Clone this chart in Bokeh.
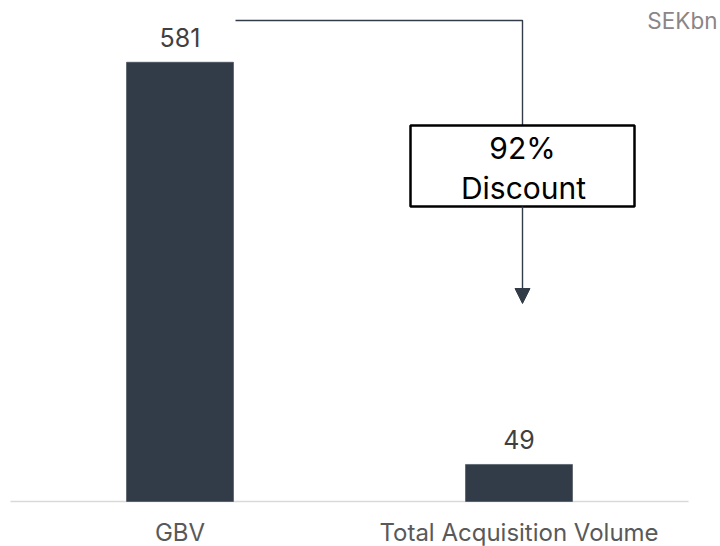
from bokeh.plotting import figure
from bokeh.models import Range1d, ColumnDataSource, Arrow, NormalHead
from bokeh.embed import file_html
from bokeh.resources import INLINE
from bokeh.core.properties import value

# ---- data ----
categories = ["GBV", "Total Acquisition Volume"]
values = [581, 49]
value_labels = ["581", "49"]
unit_label = "SEKbn"
discount_pct = "92%"
discount_word = "Discount"

BAR = "#313c48"
FONT = "Inter"

# ---- layout constants (pixels) ----
W, H = 720, 546
px_x = 339.0                     # pixels per category slot
px_y = (501 - 61.7) / 581.0      # pixels per data unit

def xr(p):  # canvas px -> data x
    return (p - 10) / px_x

def yr(p):  # canvas px -> data y
    return (501 - p) / px_y

xpos = [i + 0.5 for i in range(len(categories))]
src = ColumnDataSource(dict(x=xpos, top=values, lab=value_labels, cat=categories))

p = figure(width=W, height=H, output_backend="svg", toolbar_location=None,
           x_range=Range1d(xr(0), xr(W)), y_range=Range1d(yr(H), yr(0)),
           x_axis_location=None, y_axis_location=None,
           min_border_left=0, min_border_right=0, min_border_top=0, min_border_bottom=0)
p.grid.visible = False
p.outline_line_color = None
p.background_fill_color = "white"
p.border_fill_color = "white"

# baseline
p.segment(x0=[0], x1=[len(categories)], y0=[0], y1=[0], line_color="#d9d9d9", line_width=1.6)

# bars
p.vbar(x="x", top="top", bottom=0, width=107 / px_x, source=src,
       fill_color=BAR, line_color=BAR, line_width=0.5)

# value labels
p.text(x="x", y="top", text="lab", source=src, text_align="center", text_baseline="middle",
       y_offset=-25, text_font=value(FONT), text_font_size="25px", text_color="#404040")

# category labels
p.text(x="x", y=0, text="cat", source=src, text_align="center", text_baseline="middle",
       y_offset=31, text_font=value(FONT), text_font_size="24px", text_color="#595959")

# unit label
p.text(x=[xr(717)], y=[yr(19.5)], text=[unit_label], text_align="right", text_baseline="middle",
       text_font=value(FONT), text_font_size="22.5px", text_color="#8c8488")

# connector line
vx = xr(522)
p.line(x=[xr(235), vx, vx], y=[yr(20), yr(20), yr(125)], line_color=BAR, line_width=1.4)

# discount box
p.quad(left=[xr(410)], right=[xr(634)], top=[yr(125)], bottom=[yr(206)],
       fill_color="white", line_color="black", line_width=2.5)
p.text(x=[xr(522)], y=[yr(147.5)], text=[discount_pct], text_align="center", text_baseline="middle",
       text_font=value(FONT), text_font_size="30px", text_color="black")
p.text(x=[xr(523)], y=[yr(187)], text=[discount_word], text_align="center", text_baseline="middle",
       text_font=value(FONT), text_font_size="30px", text_color="black")

# arrow
p.add_layout(Arrow(end=NormalHead(size=15, fill_color=BAR, line_color=BAR, line_width=1),
                   x_start=vx, y_start=yr(206), x_end=vx, y_end=yr(303),
                   line_color=BAR, line_width=1.4))

open("out.html", "w").write(file_html(p, INLINE))
